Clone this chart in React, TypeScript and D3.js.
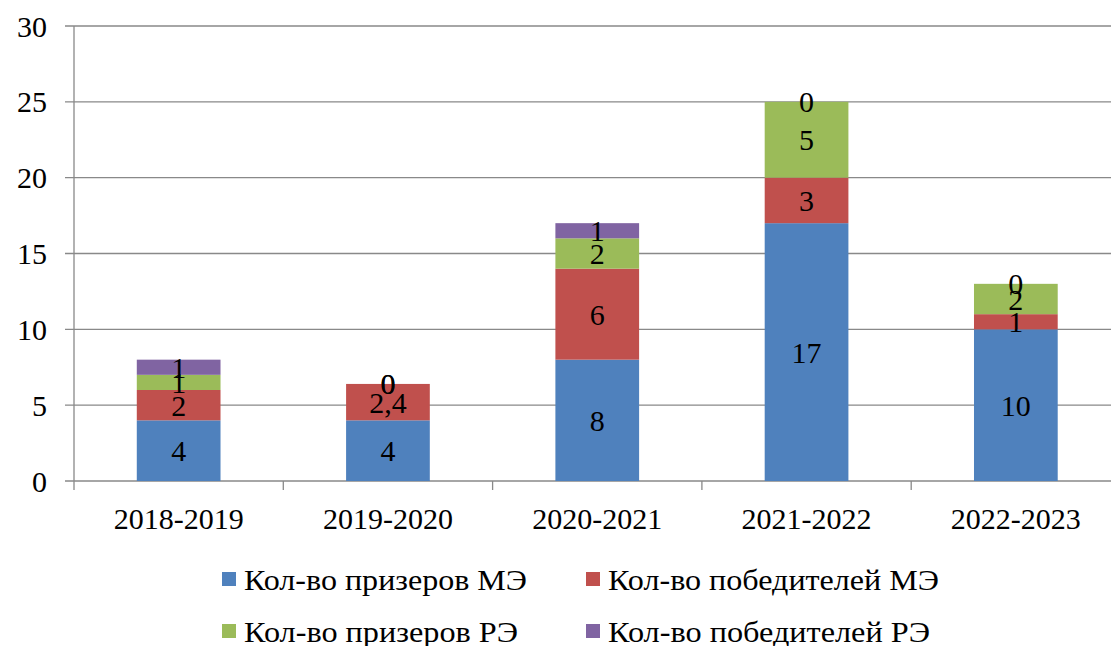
import React from "react";
import * as d3 from "d3";

const categories = ["2018-2019", "2019-2020", "2020-2021", "2021-2022", "2022-2023"];
const seriesNames = [
  "Кол-во призеров МЭ",
  "Кол-во победителей МЭ",
  "Кол-во призеров РЭ",
  "Кол-во победителей РЭ",
];
const prizeME = [4, 4, 8, 17, 10];
const winME = [2, 2.4, 6, 3, 1];
const prizeRE = [1, 0, 2, 5, 2];
const winRE = [1, 0, 1, 0, 0];
const colors = ["#4F81BD", "#C0504D", "#9BBB59", "#8064A2"];
const yTicks = [0, 5, 10, 15, 20, 25, 30];

const W = 1111;
const H = 646;
const FONT = "Liberation Serif, DejaVu Serif, serif";

export default function App() {
  const left = 74;
  const step = 209.3;
  const x = d3.scaleBand<string>().domain(categories).range([left, left + step * categories.length]).padding(0);
  const y = d3.scaleLinear().domain([0, 30]).range([481, 26]);
  const seriesData = [prizeME, winME, prizeRE, winRE];
  const table = categories.map((c, i) => {
    const o: any = { cat: c };
    seriesData.forEach((s, k) => (o["s" + k] = s[i]));
    return o;
  });
  const keys = seriesData.map((_, k) => "s" + k);
  const stacked = d3.stack<any>().keys(keys)(table);
  const barW = x.bandwidth() * 0.4;
  const fmt = (v: number) => String(v).replace(".", ",");
  const ts: React.CSSProperties = { fontFamily: FONT };

  const legendItems = [
    { x: 222, y: 579, k: 0, len: 283 },
    { x: 586, y: 579, k: 1, len: 331 },
    { x: 222, y: 631, k: 2, len: 274 },
    { x: 586, y: 631, k: 3, len: 322 },
  ];

  return (
    <div style={{ position: "absolute", left: 0, top: 0 }}>
      <svg width={W} height={H} style={{ display: "block", background: "#fff", fontFamily: FONT }}>
        {yTicks.map((t) => (
          <g key={t}>
            <line x1={65} x2={W} y1={y(t)} y2={y(t)} stroke="#898989" strokeWidth={1.3} />
            <text x={47} y={y(t)} textAnchor="end" dominantBaseline="central" fontSize={30} fill="#000" style={ts}>
              {t}
            </text>
          </g>
        ))}
        <line x1={left} x2={left} y1={y(30)} y2={490} stroke="#898989" strokeWidth={1.3} />
        {categories.map((c) => (
          <line key={c} x1={(x(c) as number) + x.bandwidth()} x2={(x(c) as number) + x.bandwidth()} y1={481} y2={490} stroke="#898989" strokeWidth={1.3} />
        ))}
        {stacked.map((layer, k) => (
          <g key={k}>
            {layer.map((d, i) => {
              const cx = (x(categories[i]) as number) + x.bandwidth() / 2;
              return (
                <rect key={i} x={cx - barW / 2} y={y(d[1])} width={barW} height={Math.max(0, y(d[0]) - y(d[1]))} fill={colors[k]} />
              );
            })}
          </g>
        ))}
        {stacked.map((layer, k) => (
          <g key={"l" + k}>
            {layer.map((d, i) => {
              const cx = (x(categories[i]) as number) + x.bandwidth() / 2;
              const v = seriesData[k][i];
              return (
                <text key={i} x={cx} y={(y(d[0]) + y(d[1])) / 2} textAnchor="middle" dominantBaseline="central" fontSize={30} fill="#000" style={ts}>
                  {fmt(v)}
                </text>
              );
            })}
          </g>
        ))}
        {categories.map((c) => (
          <text key={c} x={(x(c) as number) + x.bandwidth() / 2} y={518} textAnchor="middle" dominantBaseline="central" fontSize={30} fill="#000" style={ts}>
            {c}
          </text>
        ))}
        {legendItems.map((it) => (
          <g key={it.k}>
            <rect x={it.x} y={it.y - 7} width={14} height={14} fill={colors[it.k]} />
            <text x={it.x + 22} y={it.y} dominantBaseline="central" fontSize={30} fill="#000" style={ts} textLength={it.len} lengthAdjust="spacingAndGlyphs">
              {seriesNames[it.k]}
            </text>
          </g>
        ))}
      </svg>
    </div>
  );
}
